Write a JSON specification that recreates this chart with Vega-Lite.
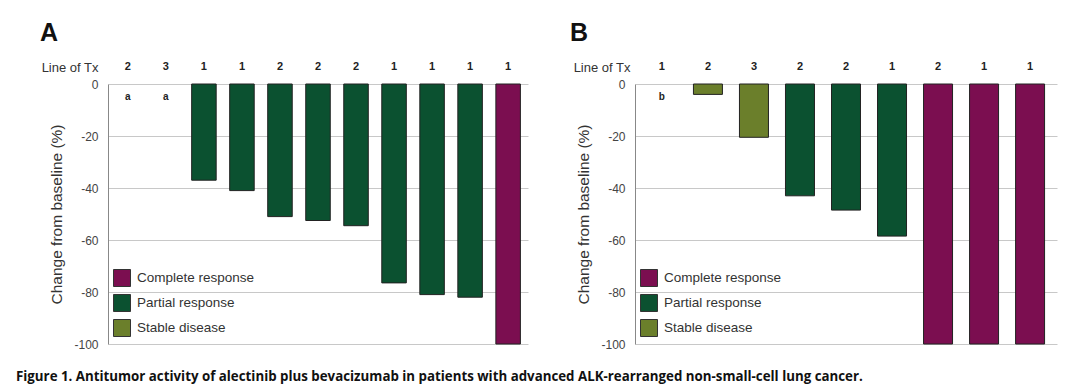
{
  "$schema": "https://vega.github.io/schema/vega-lite/v6.json",
  "background": "white",
  "padding": {"left": 16, "top": 21, "right": 5, "bottom": 5},
  "datasets": {
    "panelA": [
      {"pt": 1, "line": "2", "resp": null, "change": null, "note": "a"},
      {"pt": 2, "line": "3", "resp": null, "change": null, "note": "a"},
      {"pt": 3, "line": "1", "resp": "Partial response", "change": -37, "note": ""},
      {"pt": 4, "line": "1", "resp": "Partial response", "change": -41, "note": ""},
      {"pt": 5, "line": "2", "resp": "Partial response", "change": -51, "note": ""},
      {"pt": 6, "line": "2", "resp": "Partial response", "change": -52.5, "note": ""},
      {"pt": 7, "line": "2", "resp": "Partial response", "change": -54.5, "note": ""},
      {"pt": 8, "line": "1", "resp": "Partial response", "change": -76.5, "note": ""},
      {"pt": 9, "line": "1", "resp": "Partial response", "change": -81, "note": ""},
      {"pt": 10, "line": "1", "resp": "Partial response", "change": -82, "note": ""},
      {"pt": 11, "line": "1", "resp": "Complete response", "change": -100, "note": ""}
    ],
    "panelB": [
      {"pt": 1, "line": "1", "resp": null, "change": null, "note": "b"},
      {"pt": 2, "line": "2", "resp": "Stable disease", "change": -4, "note": ""},
      {"pt": 3, "line": "3", "resp": "Stable disease", "change": -20.5, "note": ""},
      {"pt": 4, "line": "2", "resp": "Partial response", "change": -43, "note": ""},
      {"pt": 5, "line": "2", "resp": "Partial response", "change": -48.5, "note": ""},
      {"pt": 6, "line": "1", "resp": "Partial response", "change": -58.5, "note": ""},
      {"pt": 7, "line": "2", "resp": "Complete response", "change": -100, "note": ""},
      {"pt": 8, "line": "1", "resp": "Complete response", "change": -100, "note": ""},
      {"pt": 9, "line": "1", "resp": "Complete response", "change": -100, "note": ""}
    ]
  },
  "title": {
    "text": "Figure 1. Antitumor activity of alectinib plus bevacizumab in patients with advanced ALK-rearranged non-small-cell lung cancer.",
    "orient": "bottom",
    "anchor": "start",
    "frame": "bounds",
    "font": "Open Sans",
    "fontSize": 13.3,
    "fontWeight": "bold",
    "color": "#111111",
    "dx": -24,
    "offset": 20
  },
  "spacing": 42,
  "resolve": {"legend": {"color": "independent"}},
  "hconcat": [
    {
      "width": 420,
      "height": 260,
      "data": {"name": "panelA"},
      "title": {"text": "A", "anchor": "start", "frame": "group", "dx": -68, "fontSize": 25, "fontWeight": "bold", "color": "#111111", "offset": -5, "baseline": "alphabetic"},
      "encoding": {
        "x": {
          "field": "pt", "type": "ordinal",
          "scale": {"paddingInner": 0.355, "paddingOuter": 0.2},
          "axis": {"orient": "top", "labels": false, "ticks": false, "domain": false, "title": "Line of Tx", "titleX": -10, "titleY": -16.5, "titleAlign": "right", "titleBaseline": "middle", "titleFontWeight": "normal", "titleFontSize": 13, "titleColor": "#333333"}
        }
      },
      "layer": [
        {
          "mark": {"type": "bar", "stroke": "#222222", "strokeWidth": 1},
          "encoding": {
            "y": {
              "field": "change", "type": "quantitative",
              "scale": {"domain": [-100, 0], "nice": false},
              "axis": {"title": "Change from baseline (%)", "values": [-100, -80, -60, -40, -20, 0], "labelExpr": "datum.value + ''", "grid": true, "gridColor": "#c8c8c8", "ticks": false, "domain": true, "domainColor": "#888888", "labelFontSize": 12, "labelColor": "#444444", "labelPadding": 10, "titleFontSize": 15.5, "titleFontWeight": "normal", "titleColor": "#333333", "titlePadding": 9}
            },
            "color": {
              "field": "resp", "type": "nominal",
              "scale": {"domain": ["Complete response", "Partial response", "Stable disease"], "range": ["#7b0e50", "#0b5130", "#6b7f2b"]},
              "legend": {"orient": "bottom-left", "offset": 5, "title": null, "symbolType": "square", "symbolSize": 289, "symbolStrokeColor": "#333333", "symbolStrokeWidth": 1, "symbolOpacity": 1, "labelFontSize": 13.5, "labelColor": "#333333", "rowPadding": 3, "labelOffset": 6}
            }
          }
        },
        {
          "mark": {"type": "text", "fontWeight": "bold", "fontSize": 11, "color": "#222222", "baseline": "middle"},
          "encoding": {"y": {"datum": 6.35}, "text": {"field": "line"}}
        },
        {
          "mark": {"type": "text", "fontWeight": "bold", "fontSize": 10, "color": "#222222", "baseline": "middle"},
          "encoding": {"y": {"datum": -5}, "text": {"field": "note"}}
        }
      ]
    },
    {
      "width": 422,
      "height": 260,
      "data": {"name": "panelB"},
      "title": {"text": "B", "anchor": "start", "frame": "group", "dx": -65, "fontSize": 25, "fontWeight": "bold", "color": "#111111", "offset": -5, "baseline": "alphabetic"},
      "encoding": {
        "x": {
          "field": "pt", "type": "ordinal",
          "scale": {"paddingInner": 0.37, "paddingOuter": 0.27},
          "axis": {"orient": "top", "labels": false, "ticks": false, "domain": false, "title": "Line of Tx", "titleX": -5, "titleY": -16.5, "titleAlign": "right", "titleBaseline": "middle", "titleFontWeight": "normal", "titleFontSize": 13, "titleColor": "#333333"}
        }
      },
      "layer": [
        {
          "mark": {"type": "bar", "stroke": "#222222", "strokeWidth": 1},
          "encoding": {
            "y": {
              "field": "change", "type": "quantitative",
              "scale": {"domain": [-100, 0], "nice": false},
              "axis": {"title": "Change from baseline (%)", "values": [-100, -80, -60, -40, -20, 0], "labelExpr": "datum.value + ''", "grid": true, "gridColor": "#c8c8c8", "ticks": false, "domain": true, "domainColor": "#888888", "labelFontSize": 12, "labelColor": "#444444", "labelPadding": 10, "titleFontSize": 15.5, "titleFontWeight": "normal", "titleColor": "#333333", "titlePadding": 9}
            },
            "color": {
              "field": "resp", "type": "nominal",
              "scale": {"domain": ["Complete response", "Partial response", "Stable disease"], "range": ["#7b0e50", "#0b5130", "#6b7f2b"]},
              "legend": {"orient": "bottom-left", "offset": 5, "title": null, "symbolType": "square", "symbolSize": 289, "symbolStrokeColor": "#333333", "symbolStrokeWidth": 1, "symbolOpacity": 1, "labelFontSize": 13.5, "labelColor": "#333333", "rowPadding": 3, "labelOffset": 6}
            }
          }
        },
        {
          "mark": {"type": "text", "fontWeight": "bold", "fontSize": 11, "color": "#222222", "baseline": "middle"},
          "encoding": {"y": {"datum": 6.35}, "text": {"field": "line"}}
        },
        {
          "mark": {"type": "text", "fontWeight": "bold", "fontSize": 10, "color": "#222222", "baseline": "middle"},
          "encoding": {"y": {"datum": -5}, "text": {"field": "note"}}
        }
      ]
    }
  ],
  "config": {
    "view": {"stroke": null},
    "font": "Liberation Sans"
  }
}
